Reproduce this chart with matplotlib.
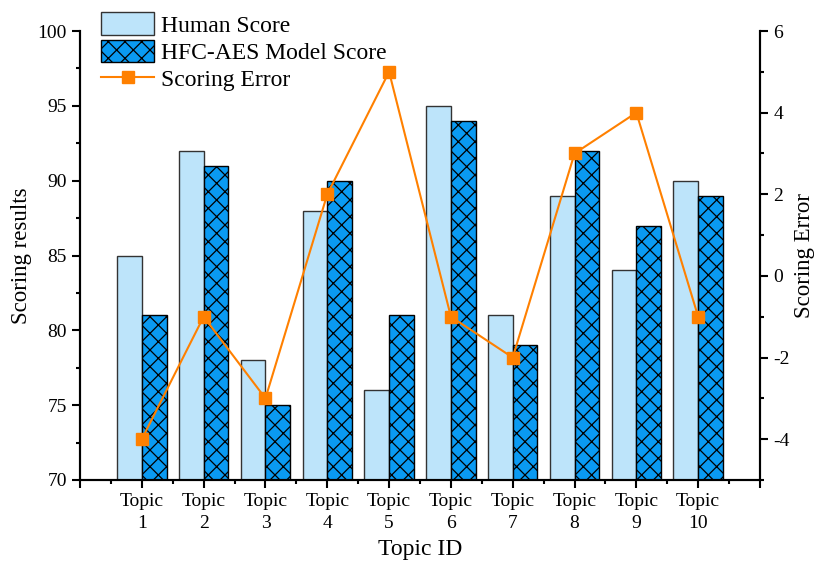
import numpy as np
import matplotlib
matplotlib.use("Agg")
import matplotlib.pyplot as plt
from matplotlib.ticker import MultipleLocator

plt.rcParams['font.family'] = ['Liberation Serif', 'DejaVu Serif']
plt.rcParams['hatch.linewidth'] = 0.9
plt.rcParams['axes.unicode_minus'] = False

# data
topics = ['Topic\n1', 'Topic\n2', 'Topic\n3', 'Topic\n4', 'Topic\n5',
          'Topic\n6', 'Topic\n7', 'Topic\n8', 'Topic\n9', 'Topic\n10']
humanScore = [85, 92, 78, 88, 76, 95, 81, 89, 84, 90]
modelScore = [81, 91, 75, 90, 81, 94, 79, 92, 87, 89]
scoringError = [-4, -1, -3, 2, 5, -1, -2, 3, 4, -1]

x = np.arange(1, len(topics) + 1)
w = 0.4

fig = plt.figure(figsize=(8.16, 5.62), dpi=100)
ax = fig.add_axes([80/816, 1-480/562, 680/816, 449/562])

b1 = ax.bar(x - w/2, humanScore, w, color='#BDE4FA', edgecolor='#333333',
            linewidth=1.0, label='Human Score')
b2 = ax.bar(x + w/2, modelScore, w, color='#0A9AF2', edgecolor='black',
            linewidth=1.0, hatch='xx', label='HFC-AES Model Score')

ax.set_xlim(0, 11)
ax.set_ylim(70, 100)
ax.set_xticks(np.arange(0, 12))
ax.set_xticklabels([''] + topics + [''], linespacing=1.35)
ax.xaxis.set_minor_locator(MultipleLocator(0.5))
ax.yaxis.set_major_locator(MultipleLocator(5))
ax.yaxis.set_minor_locator(MultipleLocator(2.5))
ax.set_xlabel('Topic ID', fontsize=17, labelpad=5)
ax.set_ylabel('Scoring results', fontsize=16.5)

ax2 = ax.twinx()
ln, = ax2.plot(x, scoringError, color='#FF8000', linewidth=1.5, marker='s',
               markersize=8, label='Scoring Error')
ax2.set_ylim(-5, 6)
ax2.yaxis.set_major_locator(MultipleLocator(2))
ax2.yaxis.set_minor_locator(MultipleLocator(1))
ax2.set_ylabel('Scoring Error', fontsize=16.5, labelpad=3)

for a in (ax, ax2):
    a.tick_params(which='major', direction='out', length=6, width=1.5, labelsize=14)
    a.tick_params(which='minor', direction='out', length=3, width=1.5)
    for s in a.spines.values():
        s.set_linewidth(1.5)
ax.spines['top'].set_visible(False)
ax2.spines['top'].set_visible(False)

ax.legend(handles=[b1, b2, ln], loc='upper left', bbox_to_anchor=(0.031, 1.042),
          frameon=False, fontsize=17, handlelength=2.25, handleheight=1.1,
          handletextpad=0.3, borderaxespad=0, borderpad=0, labelspacing=0.13)

fig.savefig('out.png', dpi=100)
